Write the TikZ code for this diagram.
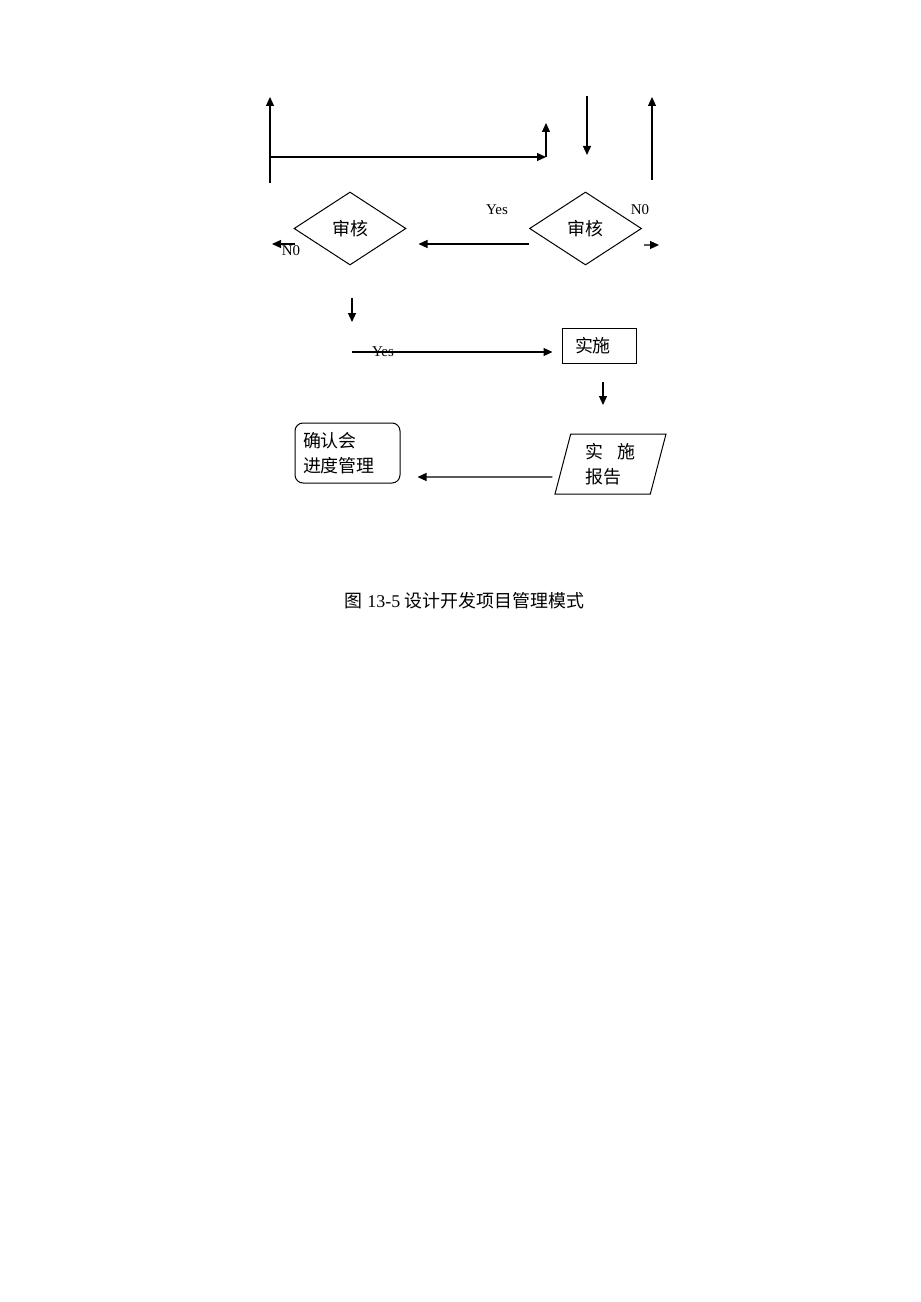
\documentclass[tikz,border=0pt]{standalone}
\usepackage{fontspec}
\setmainfont{Liberation Serif}
\newfontfamily\cjk{Noto Sans CJK SC}
\usepackage{tikz}
\usetikzlibrary{arrows.meta,calc,positioning,shapes.geometric}
\tikzset{%
	startstop/.style= {draw, line width=1bp, rectangle, rounded corners=8bp, minimum width=105bp, minimum height=60bp, text width=89bp, inner xsep=8bp, align=left, font=\cjk\fontsize{18}{25}\selectfont},
	inout/.style    = {draw, line width=1bp, trapezium, trapezium left angle=72, trapezium right angle=108, trapezium stretches body, minimum width=111bp, minimum height=60bp, align=left, font=\cjk\fontsize{18}{25}\selectfont},
	process/.style  = {draw, line width=1bp, rectangle, minimum width=74bp, minimum height=35bp, text width=48bp, inner xsep=13bp, align=left, font=\cjk\fontsize{18}{22}\selectfont},
	decision/.style = {draw, line width=1bp, diamond, minimum width=112bp, minimum height=73bp, inner sep=0pt, text centered, font=\cjk\fontsize{18}{22}\selectfont},
	lbl/.style      = {inner sep=0pt, font=\fontsize{15}{18}\selectfont},
	arrow/.style    = {line width=1.2bp, -{Triangle[length=9bp,width=8bp]}},
}

\begin{document}
\begin{tikzpicture}[x=1bp,y=-1bp]
	\useasboundingbox (0,0) rectangle (920,1302);
	
	% nodes
	\node[decision] (chkA) at (350,228.5) {审核};
	\node[decision] (chkB) at (585.5,228.5) {审核};
	\node[process] (impl) at (599,345.5) {实施};
	\node[inout] (rpt) at (610.5,464) {实\hspace{0.8em}施\\报告};
	\node[startstop] (conf) at (347.5,453) {确认会\\进度管理};
	\node[inner sep=0pt, font=\fontsize{18}{22}\selectfont] (cap) at (464.5,601) {{\cjk 图} 13-5 {\cjk 设计开发项目管理模式}};
	
	% free ends
	\coordinate (upA0) at (270,183);
	\coordinate (upA1) at (270,97);
	\coordinate (bend) at (270,157);
	\coordinate (loopR) at (546,157);
	\coordinate (loopT) at (546,123);
	\coordinate (inB0) at (587,96);
	\coordinate (inB1) at (587,155);
	\coordinate (upB0) at (652,180);
	\coordinate (upB1) at (652,97);
	\coordinate (noBend) at (659,245);
	\coordinate (noAstart) at (295,244);
	\coordinate (noAend) at (272,244);
	\coordinate (dnA0) at (352,298);
	\coordinate (dnA1) at (352,322);
	\coordinate (yesA) at (352,352);
	\coordinate (dnI0) at (603,382);
	\coordinate (dnI1) at (603,405);
	
	% top
	\draw[arrow] (upA0) -- (upA1);
	\draw[arrow] (bend) -- (loopR);
	\draw[arrow] (loopR) -- (loopT);
	\draw[arrow] (inB0) -- (inB1);
	\draw[arrow] (upB0) -- (upB1);
	
	% decisions
	\node[lbl] (yesB) at (497,210) {Yes};
	\draw[arrow] ([yshift=-15.5bp]chkB.west) -- ([xshift=12bp,yshift=-15.5bp]chkA.east);
	\node[lbl] (noB) at (640,210) {N0};
	\draw[arrow] ([xshift=2bp,yshift=-16.5bp]chkB.east) -- (noBend);
	\node[lbl] (noA) at (291,251) {N0};
	\draw[arrow] (noAstart) -- (noAend);
	\draw[arrow] (dnA0) -- (dnA1);
	
	% implementation
	\node[lbl] (yesA-l) at (383,352) {Yes};
	\draw[arrow] (yesA) -- ([xshift=-9bp]yesA -| impl.west);
	\draw[arrow] (dnI0) -- (dnI1);
	\draw[arrow] ([xshift=-10bp,yshift=-13bp]rpt.west) -- ([xshift=17bp,yshift=-24bp]conf.east);
\end{tikzpicture}
\end{document}
